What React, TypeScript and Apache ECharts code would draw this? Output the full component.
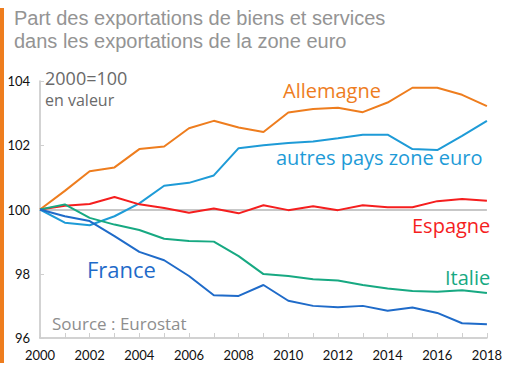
import React, { useEffect, useRef } from "react";
import * as echarts from "echarts";

const years = ["2000","2001","2002","2003","2004","2005","2006","2007","2008","2009","2010","2011","2012","2013","2014","2015","2016","2017","2018"];
const allemagne = [100, 100.58, 101.19, 101.31, 101.88, 101.96, 102.53, 102.76, 102.55, 102.41, 103.02, 103.13, 103.17, 103.03, 103.33, 103.79, 103.79, 103.57, 103.22];
const autres = [100, 99.59, 99.51, 99.79, 100.19, 100.74, 100.83, 101.06, 101.91, 102.0, 102.07, 102.12, 102.22, 102.33, 102.33, 101.88, 101.85, 102.29, 102.76];
const espagne = [100, 100.12, 100.17, 100.39, 100.16, 100.05, 99.9, 100.03, 99.88, 100.13, 99.98, 100.1, 99.98, 100.13, 100.07, 100.07, 100.26, 100.33, 100.27];
const italie = [100, 100.16, 99.74, 99.53, 99.36, 99.09, 99.02, 99.0, 98.55, 97.99, 97.93, 97.83, 97.79, 97.65, 97.54, 97.46, 97.44, 97.49, 97.4];
const france = [100, 99.79, 99.64, 99.17, 98.68, 98.42, 97.93, 97.33, 97.31, 97.65, 97.16, 97.0, 96.96, 97.0, 96.85, 96.95, 96.78, 96.46, 96.43];
const yTicks = [96, 98, 100, 102, 104];
const titleLines = ["Part des exportations de biens et services", "dans les exportations de la zone euro"];

const C = {
  de: "#EE7D1E",
  autres: "#1E9BD7",
  es: "#F51E1E",
  it: "#17A982",
  fr: "#1F6BC9",
};

const FONT = "Lato, 'Open Sans', sans-serif";
const TFONT = "'Open Sans', Lato, sans-serif";
const HFONT = "'Liberation Sans', Arial, sans-serif";

export default function App() {
  const ref = useRef<HTMLDivElement>(null);
  useEffect(() => {
    if (!ref.current) return;
    const chart = echarts.init(ref.current, null, { renderer: "svg" });
    const mk = (name: string, data: number[], color: string) => ({
      name,
      type: "line",
      data,
      symbol: "none",
      lineStyle: { color, width: 2 },
      itemStyle: { color },
      z: 3,
    });
    chart.setOption({
      animation: false,
      textStyle: { fontFamily: FONT },
      grid: { left: 40, right: 17, top: 81, bottom: 33 },
      xAxis: {
        type: "category",
        data: years,
        boundaryGap: false,
        axisLine: { lineStyle: { color: "#c4c4c4", width: 1.5 } },
        axisTick: { inside: true, length: 5, interval: 0, lineStyle: { color: "#cfcfcf" } },
        axisLabel: { interval: 1, color: "#111", fontSize: 13, margin: 10, fontFamily: FONT },
        splitLine: { show: false },
      },
      yAxis: {
        type: "value",
        min: yTicks[0],
        max: yTicks[yTicks.length - 1],
        interval: 2,
        axisLine: { show: true, lineStyle: { color: "#c4c4c4", width: 1.5 } },
        axisTick: { show: true, inside: true, length: 4, lineStyle: { color: "#cfcfcf" } },
        axisLabel: { color: "#111", fontSize: 13, margin: 10, fontFamily: FONT },
        splitLine: {
          show: true,
          lineStyle: { color: ["transparent", "transparent", "#b5b5b5", "transparent", "transparent"], width: 1.5 },
        },
      },
      series: [
        mk("Allemagne", allemagne, C.de),
        mk("autres pays zone euro", autres, C.autres),
        mk("Espagne", espagne, C.es),
        mk("Italie", italie, C.it),
        mk("France", france, C.fr),
      ],
      graphic: [
        { type: "rect", shape: { x: 0, y: 8, width: 4, height: 355 }, style: { fill: "#EE7D1E" } },
        { type: "text", x: 14, y: 18, style: { text: titleLines[0], fill: "#949494", fontSize: 20, verticalAlign: "middle", fontFamily: HFONT } },
        { type: "text", x: 14, y: 41, style: { text: titleLines[1], fill: "#949494", fontSize: 20, verticalAlign: "middle", fontFamily: HFONT } },
        { type: "text", x: 45, y: 69, style: { text: "2000=100", fill: "#6a6a6a", fontSize: 18, fontFamily: TFONT } },
        { type: "text", x: 45, y: 92, style: { text: "en valeur", fill: "#6a6a6a", fontSize: 16, fontFamily: TFONT } },
        { type: "text", x: 283, y: 80, style: { text: "Allemagne", fill: C.de, fontSize: 20, fontFamily: TFONT } },
        { type: "text", x: 276, y: 147, style: { text: "autres pays zone euro", fill: C.autres, fontSize: 20, fontFamily: TFONT } },
        { type: "text", x: 412, y: 215, style: { text: "Espagne", fill: C.es, fontSize: 20, fontFamily: TFONT } },
        { type: "text", x: 445, y: 267, style: { text: "Italie", fill: C.it, fontSize: 20, fontFamily: TFONT } },
        { type: "text", x: 87, y: 258, style: { text: "France", fill: C.fr, fontSize: 22, fontFamily: TFONT } },
        { type: "text", x: 52, y: 315, style: { text: "Source : Eurostat", fill: "#8e8e8e", fontSize: 17, fontFamily: TFONT } },
      ],
    });
    return () => chart.dispose();
  }, []);
  return <div ref={ref} style={{ width: 505, height: 371, position: "absolute", left: 0, top: 0, background: "#fff" }} />;
}
